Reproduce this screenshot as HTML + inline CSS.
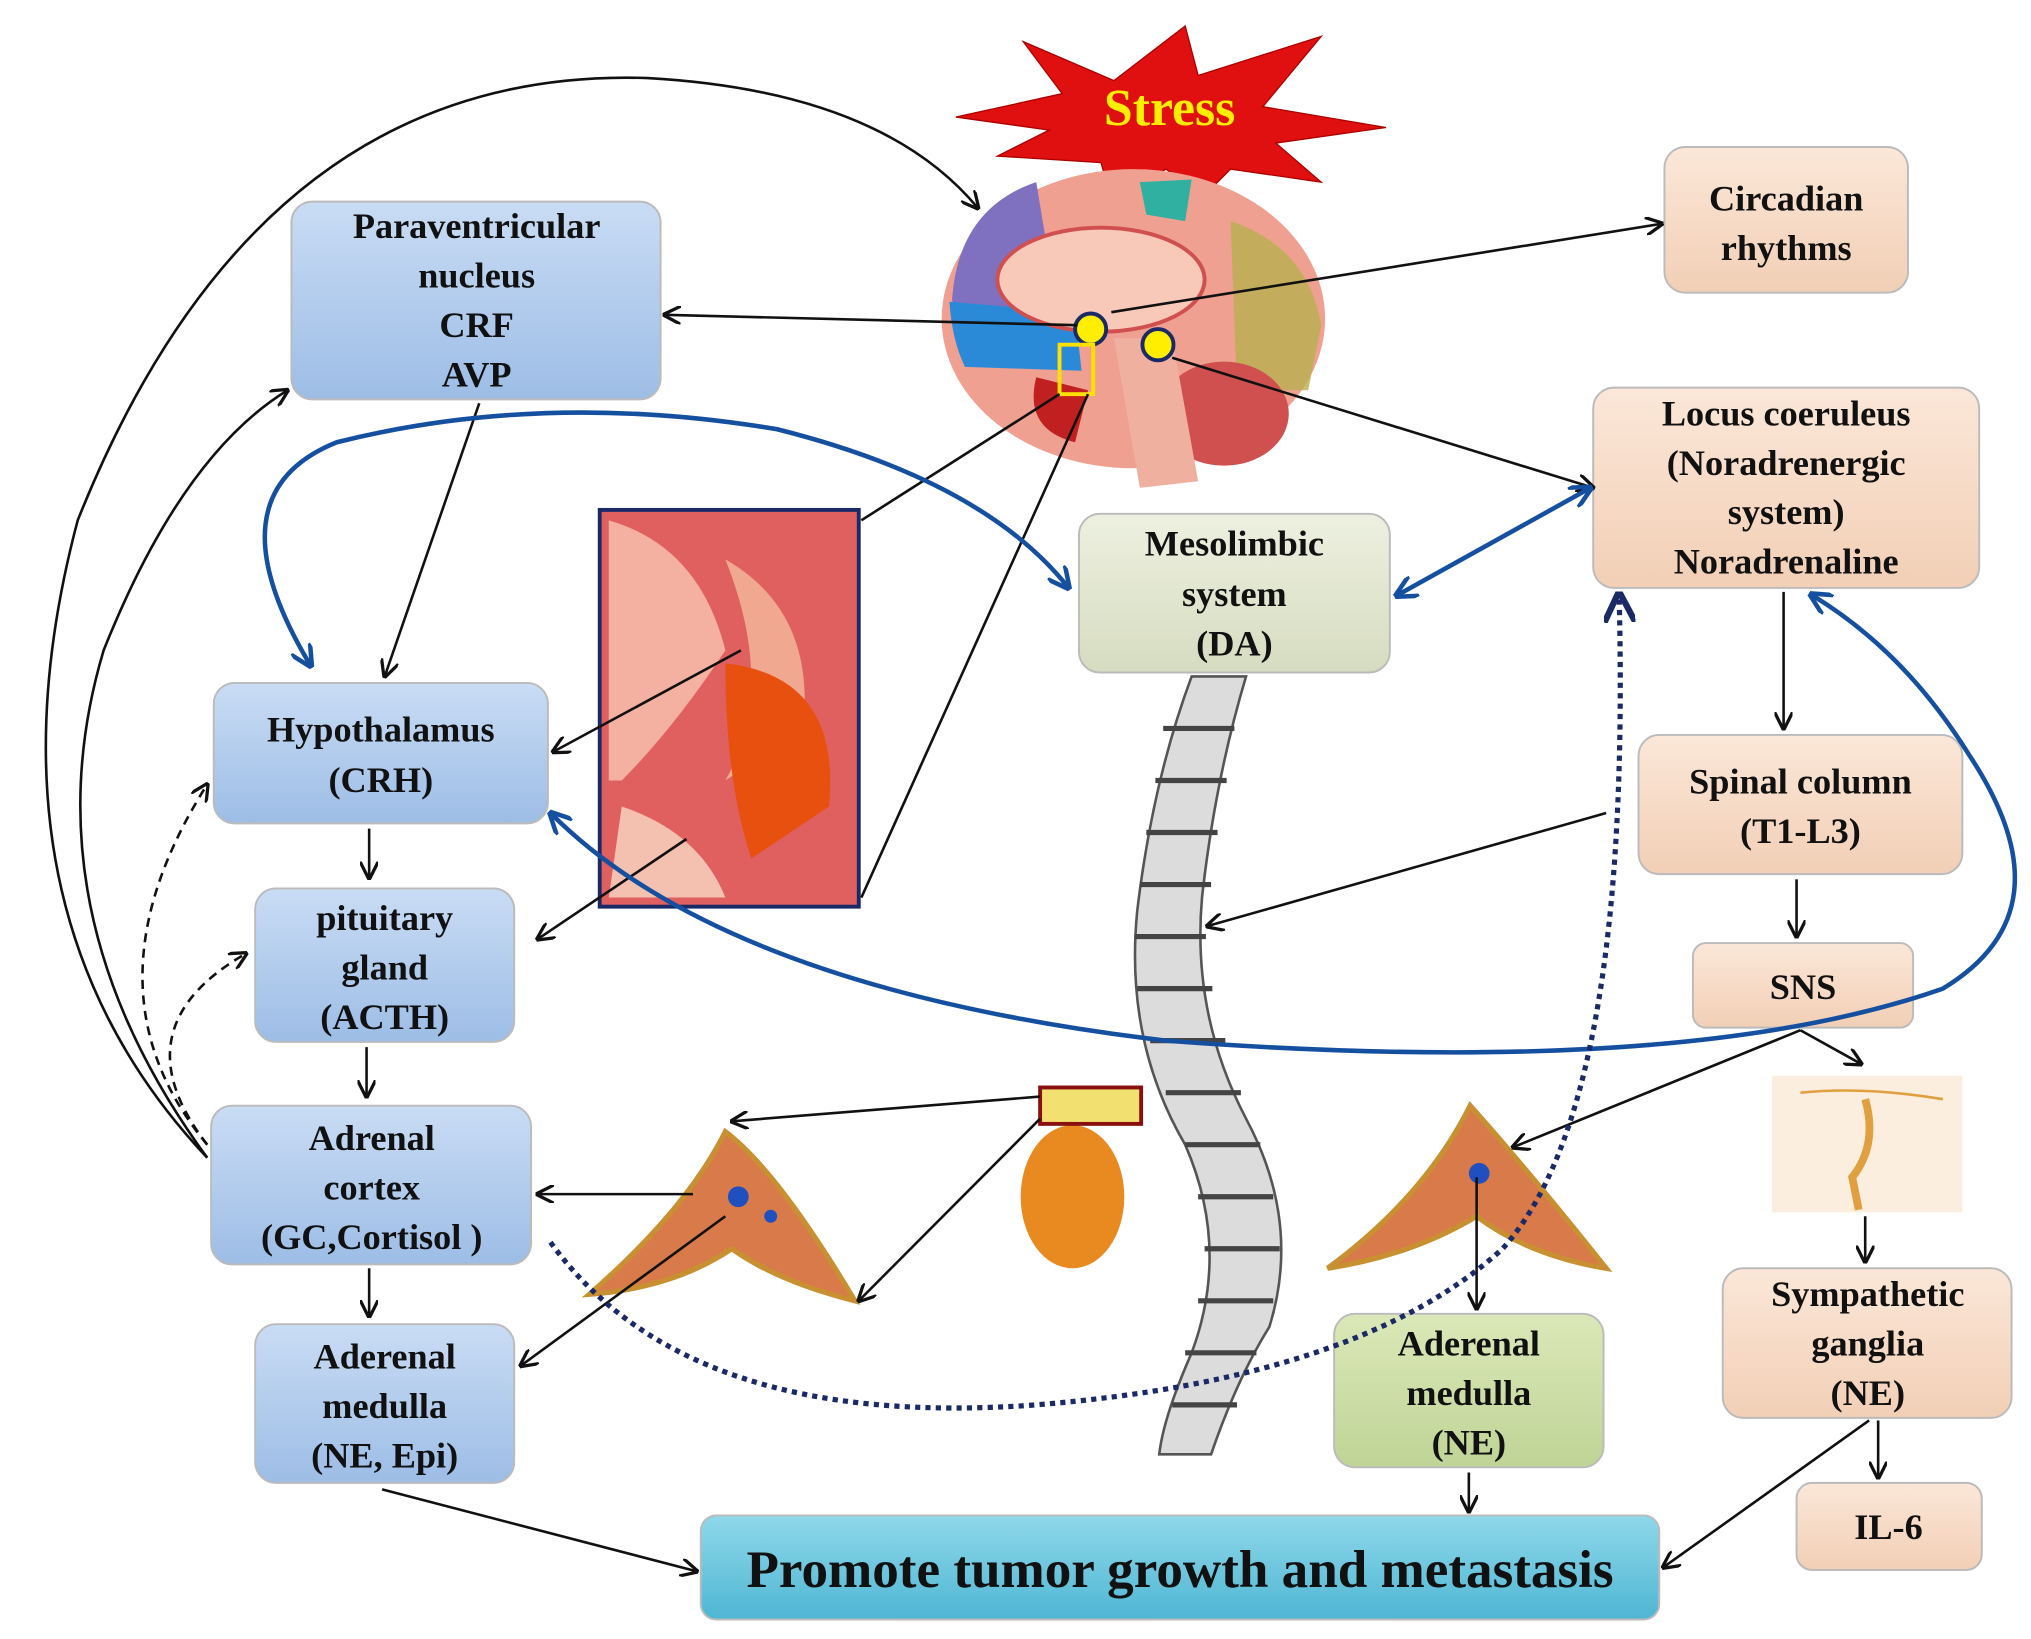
<!DOCTYPE html>
<html><head><meta charset="utf-8"><style>
html,body{margin:0;padding:0;background:#fff;}
svg{display:block;}
text{font-family:"Liberation Serif",serif;font-weight:bold;fill:#111;text-anchor:middle;}
</style></head><body>
<svg width="2031" height="1639" viewBox="0 0 1568 1260" preserveAspectRatio="none" xmlns="http://www.w3.org/2000/svg">
<defs>
<marker id="a" viewBox="0 0 10 10" refX="9" refY="5" markerWidth="7" markerHeight="7" orient="auto-start-reverse"><path d="M0,0 L10,5 L0,10" fill="none" stroke="#111" stroke-width="1.8"/></marker>
<marker id="b" viewBox="0 0 10 10" refX="9" refY="5" markerWidth="5" markerHeight="5" orient="auto-start-reverse"><path d="M0,0 L10,5 L0,10" fill="none" stroke="#1550a0" stroke-width="2"/></marker>
<marker id="c" viewBox="0 0 10 10" refX="9" refY="5" markerWidth="6" markerHeight="6" orient="auto-start-reverse"><path d="M0,0 L10,5 L0,10" fill="none" stroke="#1a2a66" stroke-width="2"/></marker>
<linearGradient id="gb" x1="0" y1="0" x2="0" y2="1"><stop offset="0" stop-color="#c9dcf4"/><stop offset="1" stop-color="#9dbde6"/></linearGradient>
<linearGradient id="gp" x1="0" y1="0" x2="0" y2="1"><stop offset="0" stop-color="#fbe7d8"/><stop offset="1" stop-color="#f2cfb6"/></linearGradient>
<linearGradient id="gg" x1="0" y1="0" x2="0" y2="1"><stop offset="0" stop-color="#edf0e0"/><stop offset="1" stop-color="#d6dcc0"/></linearGradient>
<linearGradient id="gl" x1="0" y1="0" x2="0" y2="1"><stop offset="0" stop-color="#dbe8b8"/><stop offset="1" stop-color="#bfd496"/></linearGradient>
<linearGradient id="gc" x1="0" y1="0" x2="0" y2="1"><stop offset="0" stop-color="#8fd8ea"/><stop offset="1" stop-color="#4fb6d3"/></linearGradient>
</defs>

<!-- star -->
<polygon points="790,32 860,62 915,20 925,58 1020,28 975,82 1070,98 985,110 1020,140 950,130 930,150 900,130 860,160 850,125 770,120 810,100 738,90 820,72" fill="#e01010" stroke="#a00" stroke-width="1"/>
<text x="903" y="96" font-size="40" style="fill:#ffee00">Stress</text>

<!-- brain -->
<ellipse cx="875" cy="245" rx="148" ry="115" fill="#f0a090"/>
<path d="M735,230 Q740,160 800,140 L820,260 L740,260Z" fill="#8070c0"/>
<path d="M733,232 L830,240 L835,285 L745,282 Q735,262 733,232Z" fill="#2a8ad8"/>
<path d="M950,170 Q1010,190 1020,250 L1010,300 L955,300Z" fill="#b8b050" opacity="0.8"/>
<path d="M880,140 L920,138 L915,170 L885,165Z" fill="#30b0a0"/>
<ellipse cx="850" cy="215" rx="80" ry="40" fill="#f8c8b8" stroke="#d05050" stroke-width="3"/>
<ellipse cx="945" cy="318" rx="50" ry="40" fill="#d05050"/>
<path d="M860,260 L905,260 L925,370 L880,375Z" fill="#f0b0a0"/>
<path d="M800,290 Q790,330 830,340 L840,300Z" fill="#c02020"/>
<circle cx="842" cy="253" r="12" fill="#ffee00" stroke="#1a2a66" stroke-width="3"/>
<circle cx="894" cy="265" r="12" fill="#ffee00" stroke="#1a2a66" stroke-width="3"/>
<rect x="818" y="265" width="26" height="38" fill="none" stroke="#ffe000" stroke-width="3"/>

<!-- zoom image -->
<rect x="463" y="392" width="200" height="305" fill="#e06060" stroke="#1a2a66" stroke-width="3"/>
<path d="M470,400 Q540,420 560,500 Q520,560 480,600 L470,600Z" fill="#f4b0a0"/>
<path d="M560,430 Q630,470 620,560 L560,600 Q600,530 560,430Z" fill="#f0a890"/>
<path d="M560,510 Q650,520 640,620 L580,660 Q560,600 560,510Z" fill="#e85010"/>
<path d="M480,620 Q540,640 560,690 L470,690Z" fill="#f4c0b0"/>

<!-- spine -->
<path d="M920,520 Q890,600 878,700 Q868,800 915,880 Q950,960 920,1040 Q898,1090 895,1118 L935,1118 Q955,1060 980,1020 Q1005,940 962,860 Q920,780 928,690 Q938,600 962,520Z" fill="#dcdcdc" stroke="#555" stroke-width="2"/>
<g stroke="#444" stroke-width="4">
<path d="M898,560 h55 M892,600 h55 M885,640 h55 M880,680 h55 M876,720 h55 M878,760 h58 M888,800 h58 M900,840 h58 M915,880 h58 M925,920 h58 M930,960 h58 M925,1000 h58 M915,1040 h55 M905,1080 h50"/>
</g>

<!-- kidney & adrenal -->
<ellipse cx="828" cy="920" rx="40" ry="55" fill="#e88a20"/>
<rect x="803" y="836" width="78" height="28" fill="#f2e070" stroke="#8a1010" stroke-width="3"/>
<path d="M455,995 Q530,930 560,870 Q600,900 660,1000 Q600,985 565,960 Q520,990 455,995Z" fill="#d97a4a" stroke="#c89030" stroke-width="4"/>
<circle cx="570" cy="920" r="8" fill="#2050c0"/><circle cx="595" cy="935" r="5" fill="#2050c0"/>
<path d="M1025,975 Q1100,920 1135,850 Q1180,900 1240,975 Q1180,965 1140,935 Q1090,965 1025,975Z" fill="#d97a4a" stroke="#c89030" stroke-width="4"/>
<circle cx="1142" cy="902" r="8" fill="#2050c0"/>
<rect x="1368" y="827" width="147" height="105" fill="#fbeede"/>
<path d="M1440,845 Q1450,880 1430,905 L1435,930" stroke="#e0a040" stroke-width="6" fill="none"/>
<path d="M1390,840 Q1440,835 1500,845" stroke="#e0a040" stroke-width="2" fill="none"/>

<!-- boxes -->
<g stroke="#bbb" stroke-width="1.5">
<rect x="225" y="155" width="285" height="152" rx="16" fill="url(#gb)"/>
<rect x="165" y="525" width="258" height="108" rx="16" fill="url(#gb)"/>
<rect x="197" y="683" width="200" height="118" rx="16" fill="url(#gb)"/>
<rect x="163" y="850" width="247" height="122" rx="16" fill="url(#gb)"/>
<rect x="197" y="1018" width="200" height="122" rx="16" fill="url(#gb)"/>
<rect x="1285" y="113" width="188" height="112" rx="16" fill="url(#gp)"/>
<rect x="1230" y="298" width="298" height="154" rx="16" fill="url(#gp)"/>
<rect x="1265" y="565" width="250" height="107" rx="16" fill="url(#gp)"/>
<rect x="1307" y="725" width="170" height="65" rx="10" fill="url(#gp)"/>
<rect x="1330" y="975" width="223" height="115" rx="16" fill="url(#gp)"/>
<rect x="1387" y="1140" width="143" height="67" rx="12" fill="url(#gp)"/>
<rect x="833" y="395" width="240" height="122" rx="16" fill="url(#gg)"/>
<rect x="1030" y="1010" width="208" height="118" rx="16" fill="url(#gl)"/>
<rect x="541" y="1165" width="740" height="80" rx="12" fill="url(#gc)"/>
</g>

<g font-size="28">
<text x="368" y="183">Paraventricular</text><text x="368" y="221">nucleus</text><text x="368" y="259">CRF</text><text x="368" y="297">AVP</text>
<text x="294" y="570">Hypothalamus</text><text x="294" y="609">(CRH)</text>
<text x="297" y="715">pituitary</text><text x="297" y="753">gland</text><text x="297" y="791">(ACTH)</text>
<text x="287" y="884">Adrenal</text><text x="287" y="922">cortex</text><text x="287" y="960">(GC,Cortisol )</text>
<text x="297" y="1052">Aderenal</text><text x="297" y="1090">medulla</text><text x="297" y="1128">(NE, Epi)</text>
<text x="1379" y="162">Circadian</text><text x="1379" y="200">rhythms</text>
<text x="1379" y="327">Locus coeruleus</text><text x="1379" y="365">(Noradrenergic</text><text x="1379" y="403">system)</text><text x="1379" y="441">Noradrenaline</text>
<text x="1390" y="610">Spinal column</text><text x="1390" y="648">(T1-L3)</text>
<text x="1392" y="768">SNS</text>
<text x="1442" y="1004">Sympathetic</text><text x="1442" y="1042">ganglia</text><text x="1442" y="1080">(NE)</text>
<text x="1458" y="1183">IL-6</text>
<text x="953" y="427">Mesolimbic</text><text x="953" y="466">system</text><text x="953" y="504">(DA)</text>
<text x="1134" y="1042">Aderenal</text><text x="1134" y="1080">medulla</text><text x="1134" y="1118">(NE)</text>
</g>
<text x="911" y="1220" font-size="41">Promote tumor growth and metastasis</text>

<!-- black arrows -->
<g stroke="#111" stroke-width="2" fill="none" marker-end="url(#a)">
<path d="M160,890 Q-20,700 60,400 Q200,50 500,60 Q680,70 755,160"/>
<path d="M160,890 Q20,700 80,500 Q140,350 222,300"/>
<path d="M832,250 L513,242"/>
<path d="M858,240 L1283,172"/>
<path d="M905,275 L1230,375"/>
<path d="M370,310 L297,520"/>
<path d="M572,500 L427,578"/>
<path d="M530,645 L415,722"/>
<line x1="285" y1="637" x2="285" y2="675"/>
<line x1="283" y1="805" x2="283" y2="843"/>
<line x1="285" y1="975" x2="285" y2="1012"/>
<path d="M535,918 L415,918"/>
<path d="M560,935 L402,1050"/>
<path d="M803,843 L565,862"/>
<path d="M803,860 L663,1000"/>
<path d="M1240,625 L932,712"/>
<line x1="1377" y1="455" x2="1377" y2="560"/>
<line x1="1387" y1="676" x2="1387" y2="720"/>
<path d="M1390,792 L1168,882"/>
<path d="M1390,792 L1437,818"/>
<line x1="1440" y1="935" x2="1440" y2="970"/>
<line x1="1450" y1="1092" x2="1450" y2="1136"/>
<path d="M1443,1092 L1284,1205"/>
<line x1="1140" y1="905" x2="1140" y2="1006"/>
<line x1="1134" y1="1132" x2="1134" y2="1162"/>
<path d="M295,1145 L538,1208"/>
</g>
<g stroke="#111" stroke-width="2" fill="none">
<path d="M665,400 L818,303"/><path d="M665,690 L840,303"/>
</g>
<g stroke="#111" stroke-width="2" fill="none" stroke-dasharray="7,5" marker-end="url(#a)">
<path d="M160,880 Q60,760 160,603"/>
<path d="M160,880 Q90,790 190,733"/>
</g>

<!-- blue arrows -->
<g stroke="#1550a0" stroke-width="3.5" fill="none" marker-end="url(#b)" marker-start="url(#b)">
<path d="M240,512 Q160,380 260,340 Q420,300 600,330 Q760,370 825,452"/>
<path d="M1078,458 L1228,375"/>
<path d="M425,625 Q560,760 900,800 Q1300,830 1500,760 Q1600,700 1520,580 Q1470,500 1398,457"/>
</g>
<path d="M425,955 Q530,1100 800,1080 Q1050,1060 1160,960 Q1260,850 1250,457" stroke="#1a2a66" stroke-width="4" fill="none" stroke-dasharray="4,4" marker-end="url(#c)"/>
</svg>
</body></html>
